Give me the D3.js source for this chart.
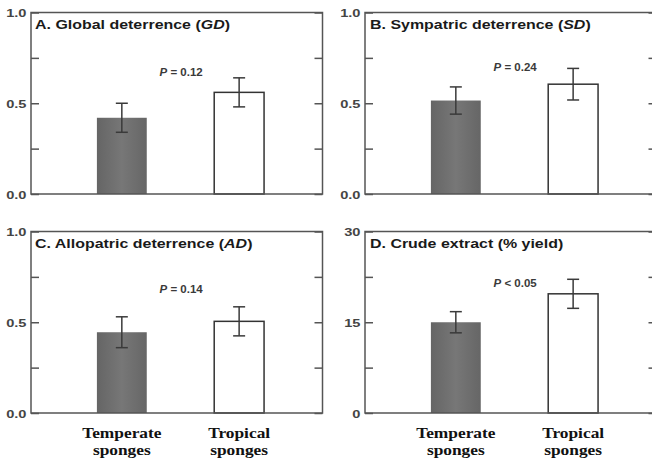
<!DOCTYPE html>
<html>
<head>
<meta charset="utf-8">
<script src="https://cdn.jsdelivr.net/npm/d3@7/dist/d3.min.js"></script>
<style>
  html, body { margin: 0; padding: 0; background: #ffffff; }
  svg { display: block; }
</style>
</head>
<body>
<svg id="chart" width="652" height="468"></svg>
<script>
// ---------------- data ----------------
const categories = ["Temperate sponges", "Tropical sponges"];
const panelLetters = ["A", "B", "C", "D"];
const titleMain = ["A. Global deterrence (", "B. Sympatric deterrence (", "C. Allopatric deterrence (", "D. Crude extract (% yield)"];
const titleItalic = ["GD", "SD", "AD", ""];
const titleEnd = [")", ")", ")", ""];
const temperateMeans = [0.42, 0.515, 0.445, 15.0];
const temperateErr   = [0.08, 0.075, 0.085, 1.75];
const tropicalMeans  = [0.56, 0.605, 0.505, 19.7];
const tropicalErr    = [0.08, 0.087, 0.08, 2.4];
const yMax = [1, 1, 1, 30];
const yTickValues = [[0, 0.25, 0.5, 0.75, 1], [0, 0.25, 0.5, 0.75, 1], [0, 0.25, 0.5, 0.75, 1], [0, 7.5, 15, 22.5, 30]];
const yTickLabels = [["0.0", "", "0.5", "", "1.0"], ["0.0", "", "0.5", "", "1.0"], ["0.0", "", "0.5", "", "1.0"], ["0", "", "15", "", "30"]];
const pLabelRel = ["=", "=", "=", "<"];
const pLabelVal = ["0.12", "0.24", "0.14", "0.05"];
const pLabelY = [0.65, 0.678, 0.661, 20.8];   // anchor in data units
const showXLabels = [false, false, true, true];

// ---------------- layout ----------------
const svg = d3.select("#chart");
const W = 291.5, H = 181.5;
const origins = [[31, 12.5], [365, 12.5], [31, 231.5], [365, 231.5]];
const sansScale = 1.33;

const defs = svg.append("defs");
const grad = defs.append("linearGradient").attr("id", "darkbar").attr("x1", "0").attr("x2", "1").attr("y1", "0").attr("y2", "0");
grad.append("stop").attr("offset", "0%").attr("stop-color", "#656565");
grad.append("stop").attr("offset", "50%").attr("stop-color", "#777777");
grad.append("stop").attr("offset", "100%").attr("stop-color", "#666666");

panelLetters.forEach((L, i) => {
  const g = svg.append("g").attr("transform", `translate(${origins[i][0]},${origins[i][1]})`);
  const x = d3.scaleBand().domain(categories).range([0, W])
    .paddingInner(0.575).paddingOuter(0.53).align(0.53);
  const y = d3.scaleLinear().domain([0, yMax[i]]).range([H, 0]);

  const rows = categories.map((c, k) => ({
    cat: c,
    mean: k === 0 ? temperateMeans[i] : tropicalMeans[i],
    err: k === 0 ? temperateErr[i] : tropicalErr[i],
    dark: k === 0
  }));

  // bars
  g.selectAll("rect.bar").data(rows).enter().append("rect")
    .attr("class", "bar")
    .attr("x", d => x(d.cat))
    .attr("width", x.bandwidth())
    .attr("y", d => y(d.mean))
    .attr("height", d => H - y(d.mean))
    .attr("fill", d => d.dark ? "url(#darkbar)" : "#ffffff")
    .attr("stroke", d => d.dark ? "none" : "#333")
    .attr("stroke-width", 1.5);

  // error bars
  const cap = 6;
  const eb = g.selectAll("g.err").data(rows).enter().append("g").attr("class", "err")
    .attr("stroke", "#3a3a3a").attr("stroke-width", 1.5);
  eb.append("line")
    .attr("x1", d => x(d.cat) + x.bandwidth() / 2).attr("x2", d => x(d.cat) + x.bandwidth() / 2)
    .attr("y1", d => y(d.mean + d.err)).attr("y2", d => y(d.mean - d.err));
  eb.append("line")
    .attr("x1", d => x(d.cat) + x.bandwidth() / 2 - cap).attr("x2", d => x(d.cat) + x.bandwidth() / 2 + cap)
    .attr("y1", d => y(d.mean + d.err)).attr("y2", d => y(d.mean + d.err));
  eb.append("line")
    .attr("x1", d => x(d.cat) + x.bandwidth() / 2 - cap).attr("x2", d => x(d.cat) + x.bandwidth() / 2 + cap)
    .attr("y1", d => y(d.mean - d.err)).attr("y2", d => y(d.mean - d.err));

  // frame
  g.append("rect").attr("x", 0).attr("y", 0).attr("width", W).attr("height", H)
    .attr("fill", "none").attr("stroke", "#555").attr("stroke-width", 1.5);

  // left axis (inward ticks)
  const left = g.append("g").call(
    d3.axisLeft(y).tickValues(yTickValues[i]).tickSizeInner(-8).tickSizeOuter(0).tickPadding(0)
      .tickFormat((d, k) => yTickLabels[i][k])
  );
  left.select(".domain").remove();
  left.selectAll(".tick line").attr("stroke", "#555").attr("stroke-width", 1.5);
  left.selectAll(".tick text")
    .attr("x", null).attr("dy", null)
    .attr("transform", `translate(-4.5,4) scale(${sansScale},1)`)
    .attr("text-anchor", "end")
    .attr("fill", "#444")
    .style("font-family", "'Liberation Sans', Arial, sans-serif")
    .style("font-size", "11px")
    .style("font-weight", "bold");

  // right axis (inward ticks, no labels)
  const right = g.append("g").attr("transform", `translate(${W},0)`).call(
    d3.axisRight(y).tickValues(yTickValues[i]).tickSizeInner(-8).tickSizeOuter(0).tickFormat("")
  );
  right.select(".domain").remove();
  right.selectAll(".tick line").attr("stroke", "#555").attr("stroke-width", 1.5);

  // title
  const t = g.append("text")
    .attr("transform", `translate(${i % 2 === 0 ? 4 : 5},16.5) scale(${sansScale},1)`)
    .attr("fill", "#1a1a1a")
    .style("font-family", "'Liberation Sans', Arial, sans-serif")
    .style("font-size", "12px")
    .style("font-weight", "bold");
  t.append("tspan").text(titleMain[i]);
  if (titleItalic[i]) t.append("tspan").style("font-style", "italic").text(titleItalic[i]);
  if (titleEnd[i]) t.append("tspan").text(titleEnd[i]);

  // P label
  const px = W * 0.515;
  const p = g.append("text")
    .attr("transform", `translate(${px},${y(pLabelY[i])}) scale(1.15,1)`)
    .attr("text-anchor", "middle")
    .attr("fill", "#3a3a3a")
    .style("font-family", "'Liberation Sans', Arial, sans-serif")
    .style("font-size", "10px")
    .style("font-weight", "bold");
  p.append("tspan").style("font-style", "italic").text("P");
  p.append("tspan").text(" " + pLabelRel[i] + " " + pLabelVal[i]);

  // category labels (two separate lines)
  if (showXLabels[i]) {
    categories.forEach(d => {
      const words = d.split(" ");
      const cx = x(d) + x.bandwidth() / 2;
      words.forEach((w, li) => {
        g.append("text")
          .attr("class", "cat")
          .attr("text-anchor", "middle")
          .attr("fill", "#111")
          .attr("transform", `translate(${cx},${H + 24.5 + li * 17}) scale(1.12,1)`)
          .style("font-family", "'Liberation Serif', 'Times New Roman', serif")
          .style("font-size", "15.5px")
          .style("font-weight", "bold")
          .text(w);
      });
    });
  }
});
</script>
</body>
</html>
